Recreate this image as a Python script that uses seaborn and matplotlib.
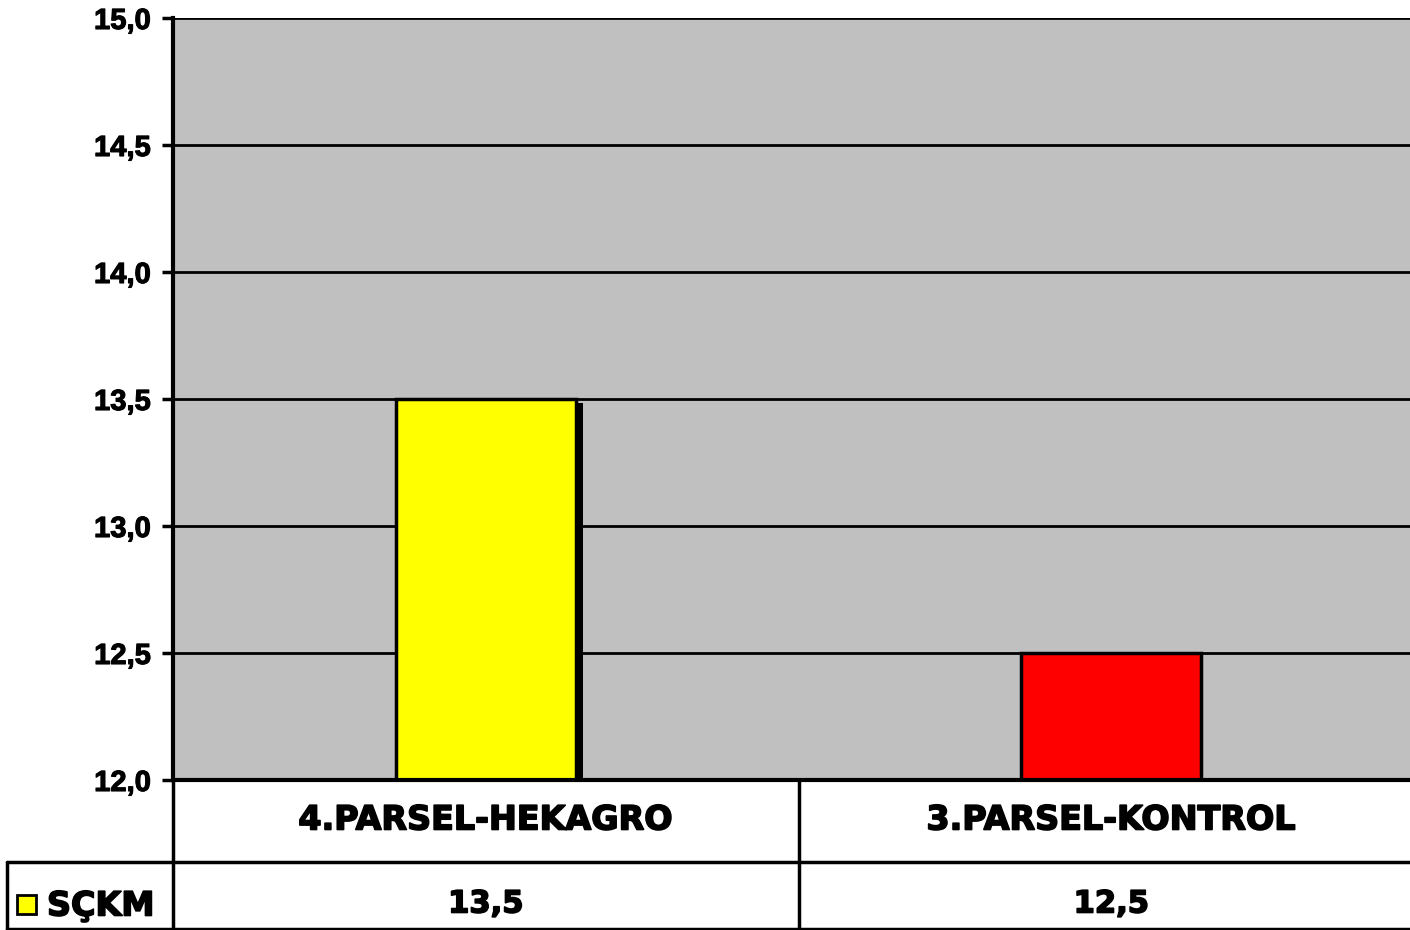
import matplotlib
matplotlib.use("Agg")
import matplotlib.pyplot as plt
import matplotlib.patheffects as pe
from matplotlib.patches import Rectangle
from matplotlib.ticker import FuncFormatter
import seaborn as sns

# chart data
categories = ["4.PARSEL-HEKAGRO", "3.PARSEL-KONTROL"]
values = [13.5, 12.5]
bar_colors = ["#FFFF00", "#FF0000"]
series_name = "SÇKM"
y_ticks = [12.0, 12.5, 13.0, 13.5, 14.0, 14.5, 15.0]

sns.set_style("white")
plt.rcParams["font.family"] = ["Liberation Sans", "DejaVu Sans"]
plt.rcParams["text.color"] = "black"
plt.rcParams["ytick.color"] = "black"
plt.rcParams["ytick.labelcolor"] = "black"

heavy = [pe.withStroke(linewidth=1.2, foreground="black")]

W, H = 1410, 930
fig = plt.figure(figsize=(W / 100, H / 100), dpi=100)

# plot area in pixel terms (right side runs past the image edge, as in the original)
left, right, top, bottom = 173, 1424, 18, 780
ax = fig.add_axes([left / W, (H - bottom) / H, (right - left) / W, (bottom - top) / H])
ax.set_facecolor("#C0C0C0")

sns.barplot(x=categories, y=values, hue=categories, palette=bar_colors,
            width=0.288, edgecolor="black", linewidth=2.5, legend=False,
            saturation=1, ax=ax, zorder=3)

ax.set_ylim(12, 15)
ax.set_xlim(-0.5, 1.5)
ax.set_yticks(y_ticks)
ax.yaxis.set_major_formatter(FuncFormatter(lambda v, p: f"{v:.1f}".replace(".", ",")))
ax.tick_params(axis="y", length=8, width=2.5, direction="out", left=True,
               labelsize=21, pad=8)
for lbl in ax.get_yticklabels():
    lbl.set_fontweight("bold")
    lbl.set_path_effects([pe.withStroke(linewidth=0.8, foreground="black")])
ax.set_xticks([])
ax.set_xlabel("")
ax.set_ylabel("")
ax.set_axisbelow(True)
ax.yaxis.grid(True, color="black", linewidth=2)
ax.xaxis.grid(False)
for side in ["top", "right", "bottom"]:
    ax.spines[side].set_visible(False)
ax.spines["left"].set_linewidth(3)
ax.spines["left"].set_color("black")

# drop shadow on the first bar
bar = ax.patches[0]
px_x = 2.0 / (right - left)
px_y = 3.0 / (bottom - top)
ax.add_patch(Rectangle((bar.get_x() + bar.get_width(), 12),
                       7 * px_x, values[0] - 12 - 4 * px_y,
                       facecolor="black", edgecolor="none", zorder=2.5))

# data table under the chart, drawn in pixel coordinates
tab = fig.add_axes([0, 0, 1, 1], facecolor="none")
tab.set_xlim(0, W)
tab.set_ylim(H, 0)
tab.axis("off")

lw = 2.5
mid = (left + right) / 2
col_edges = [left, mid, right]
tab.plot([left, W], [bottom, bottom], color="black", lw=3)
tab.plot([7, W], [862, 862], color="black", lw=lw)
tab.plot([7, W], [928.5, 928.5], color="black", lw=lw)
tab.plot([7, 7], [862, 930], color="black", lw=lw)
for x in col_edges[:2]:
    tab.plot([x, x], [bottom, 930], color="black", lw=lw)

for i, (cat, val) in enumerate(zip(categories, values)):
    cx = (col_edges[i] + col_edges[i + 1]) / 2
    tab.text(cx, 820, cat, ha="center", va="center", fontsize=24,
             fontweight="bold", family="DejaVu Sans", path_effects=heavy)
    tab.text(cx, 904, f"{val:.1f}".replace(".", ","), ha="center", va="center",
             fontsize=22, fontweight="bold", family="DejaVu Sans", path_effects=heavy)

# legend key in the table
tab.add_patch(Rectangle((17, 895), 19, 19, facecolor=bar_colors[0],
                        edgecolor="black", lw=2))
tab.text(47, 906, series_name, ha="left", va="center", fontsize=24,
         fontweight="bold", family="DejaVu Sans", path_effects=heavy)

fig.savefig("out.png", dpi=100)
